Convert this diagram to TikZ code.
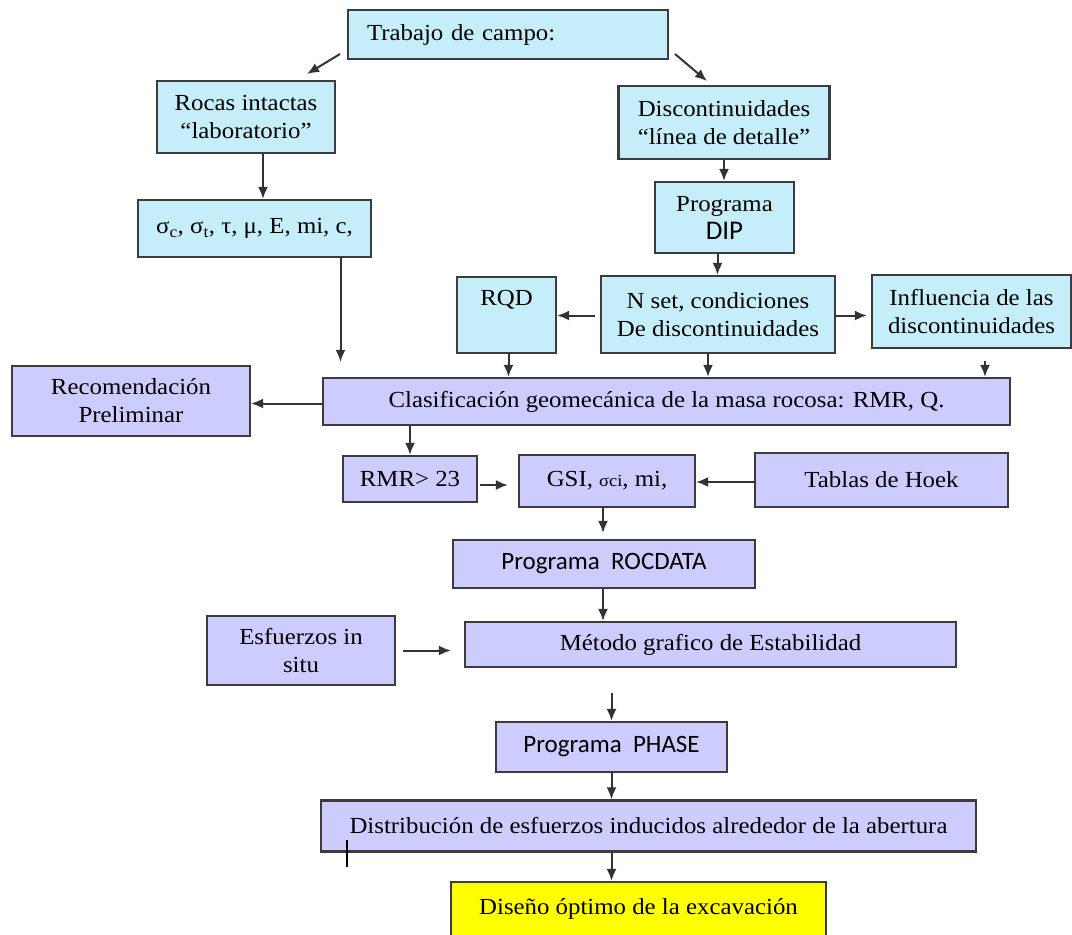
\documentclass[tikz,border=0pt]{standalone}
\usepackage{fontspec}
\setmainfont{Liberation Serif}[FakeStretch=1.08]
\newfontfamily\calibri{Carlito}
\usepackage{tikz}
\usetikzlibrary{positioning}
\usetikzlibrary{arrows.meta}

\definecolor{cyanfill}{RGB}{198,238,250}
\definecolor{lavfill}{RGB}{204,204,255}
\definecolor{finalfill}{RGB}{255,255,0}
\definecolor{edge}{RGB}{60,60,60}

\begin{document}
\begin{tikzpicture}[x=1pt,y=-1pt]
\tikzset{box/.style={rectangle, draw=edge, line width=2.2pt, inner sep=2pt, align=center, font=\fontsize{23}{28}\selectfont}}
\tikzset{fieldbox/.style={box, fill=cyanfill}}
\tikzset{massbox/.style={box, fill=lavfill}}
\tikzset{finalbox/.style={box, fill=finalfill}}
\tikzset{flow/.style={-{Latex[length=12pt,width=10pt]}, line width=2pt, draw=black!80}}
\useasboundingbox (0,0) rectangle (1072,935);
% upper part
\node[fieldbox, minimum width=320pt, minimum height=49pt, text width=282pt, inner xsep=19pt, align=left] (campo) at (508,34.5) {Trabajo de campo:};
\node[fieldbox, minimum width=178pt, minimum height=72pt] (rocas) at (246,117) {Rocas intactas\\``laboratorio''};
\node[fieldbox, minimum width=233pt, minimum height=57pt] (sigma) at (254.5,228.5) {σ\textsubscript{c}, σ\textsubscript{t}, τ, μ, E, mi, c,};
\node[fieldbox, minimum width=211pt, minimum height=73pt] (discont) at (724,122.5) {Discontinuidades\\``línea de detalle''};
\node[fieldbox, minimum width=139pt, minimum height=71pt] (dip) at (724.5,217.5) {Programa\\{\calibri\fontsize{27}{28}\selectfont DIP}};
\node[fieldbox, minimum width=99pt, minimum height=76pt, text depth=34pt] (rqd) at (506.5,315) {RQD};
\node[fieldbox, minimum width=234pt, minimum height=77pt] (nset) at (718,314.5) {N set, condiciones\\De discontinuidades};
\node[fieldbox, minimum width=199pt, minimum height=73pt] (influ) at (971.5,311.5) {Influencia de las\\discontinuidades};
% classification
\node[massbox, minimum width=238pt, minimum height=70pt] (recom) at (131,401) {Recomendación\\Preliminar};
\node[massbox, minimum width=687pt, minimum height=47pt] (clas) at (666.5,401.5) {Clasificación geomecánica de la masa rocosa: RMR, Q.};
\node[massbox, minimum width=134pt, minimum height=46pt] (rmr) at (410,479) {RMR> 23};
\node[massbox, minimum width=176pt, minimum height=52pt] (gsi) at (607,481) {GSI, {\fontsize{17}{18}\selectfont σci}, mi,};
\node[massbox, minimum width=253pt, minimum height=54pt] (tablas) at (881.5,480) {Tablas de Hoek};
\node[massbox, minimum width=302pt, minimum height=48pt, font=\calibri\fontsize{25}{28}\selectfont] (rocdata) at (604,564) {Programa\ \ ROCDATA};
\node[massbox, minimum width=188pt, minimum height=69pt] (esf) at (301,650.5) {Esfuerzos in\\situ};
\node[massbox, minimum width=491pt, minimum height=45pt] (metodo) at (710.5,644.5) {Método grafico de Estabilidad};
\node[massbox, minimum width=231pt, minimum height=50pt, font=\calibri\fontsize{25}{28}\selectfont] (phase) at (611.5,747) {Programa\ \ PHASE};
\node[massbox, minimum width=655pt, minimum height=51pt] (distri) at (648.5,826) {Distribución de esfuerzos inducidos alrededor de la abertura};
\node[finalbox, minimum width=375pt, minimum height=54pt] (diseno) at (638.5,909) {Diseño óptimo de la excavación};
% connectors
\coordinate (c1) at (340,54);
\coordinate (c2) at (307,74);
\coordinate (c3) at (675,54);
\coordinate (c4) at (707,81);
\draw[flow] (c1) -- (c2);
\draw[flow] (c3) -- (c4);
\draw[flow] ([xshift=17pt]rocas.south) -- ([xshift=17pt]rocas.south |- sigma.north);
\draw[flow, shorten >=15pt] ([xshift=86pt]sigma.south) -- ([xshift=86pt]sigma.south |- clas.north);
\draw[flow] (discont.south) -- (discont.south |- dip.north);
\draw[flow] ([xshift=-7pt]dip.south) -- ([xshift=-7pt]dip.south |- nset.north);
\draw[flow, shorten <=5pt] ([yshift=-1pt]nset.west) -- ([yshift=-1pt]nset.west -| rqd.east);
\draw[flow, shorten >=4pt] ([yshift=-1pt]nset.east) -- ([yshift=-1pt]nset.east -| influ.west);
\draw[flow] ([xshift=2pt]rqd.south) -- ([xshift=2pt]rqd.south |- clas.north);
\draw[flow] ([xshift=-10pt]nset.south) -- ([xshift=-10pt]nset.south |- clas.north);
\draw[flow] ([xshift=13.5pt,yshift=-12pt]influ.south) -- ([xshift=13.5pt]influ.south |- clas.north);
\draw[flow] ([yshift=-2pt]clas.west) -- ([yshift=-2pt]clas.west -| recom.east);
\draw[flow] (clas.south -| rmr.north) -- (rmr.north);
\draw[flow, shorten <=2pt, shorten >=10pt] ([yshift=-6pt]rmr.east) -- ([yshift=-6pt]rmr.east -| gsi.west);
\draw[flow] ([yshift=-2pt]tablas.west) -- ([yshift=-2pt]tablas.west -| gsi.east);
\draw[flow, shorten >=6pt] ([xshift=-4pt]gsi.south) -- ([xshift=-4pt]gsi.south |- rocdata.north);
\draw[flow] ([xshift=-1pt]rocdata.south) -- ([xshift=-1pt]rocdata.south |- metodo.north);
\draw[flow, shorten <=7pt, shorten >=13pt] (esf.east) -- (esf.east -| metodo.west);
\draw[flow] ([yshift=-25pt]metodo.south -| phase.north) -- (phase.north);
\draw[flow] (phase.south) -- (phase.south |- distri.north);
\draw[flow] (phase.south |- distri.south) -- (phase.south |- diseno.north);
% cursor mark
\draw[line width=1.5pt] (347,840) -- (347,867);
\end{tikzpicture}
\end{document}
